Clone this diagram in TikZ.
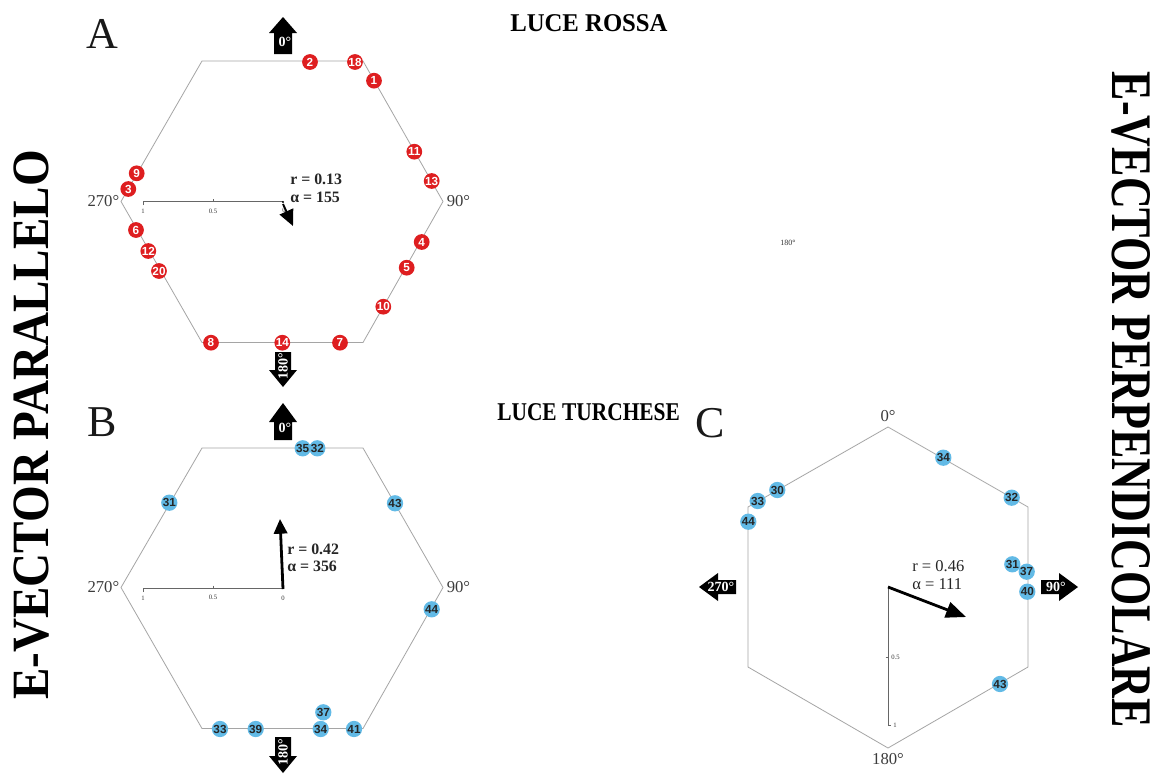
\documentclass[tikz,border=0pt]{standalone}
\usepackage{fontspec}
\setmainfont{Liberation Serif}
\newfontfamily\arialf{Liberation Sans}
\usetikzlibrary{arrows.meta}
\definecolor{mred}{RGB}{222,30,32}
\definecolor{mblue}{RGB}{98,186,230}
\definecolor{hexgray}{RGB}{165,165,165}
\definecolor{txtgray}{RGB}{60,60,60}
\begin{document}
\begin{tikzpicture}[x=0.75pt,y=-0.75pt,
  hex/.style={draw=hexgray, line width=0.6pt},
  bar/.style={draw=black!60, line width=0.45pt},
  rm/.style={circle, fill=mred, text=white, font=\arialf\bfseries\fontsize{8.8}{9}\selectfont, inner sep=0pt, minimum size=11.8pt},
  bm/.style={circle, fill=mblue, text=black!85, font=\arialf\bfseries\fontsize{8.8}{9}\selectfont, inner sep=0pt, minimum size=12.2pt},
  deg/.style={font=\fontsize{12.5}{13}\selectfont, text=txtgray, inner sep=0pt},
  stat/.style={font=\bfseries\fontsize{11.9}{13}\selectfont, anchor=west, inner sep=0pt, text=black!85},
  statc/.style={font=\fontsize{12.4}{13}\selectfont, anchor=west, inner sep=0pt, text=black!85},
  tiny/.style={font=\fontsize{5}{6}\selectfont, inner sep=0pt, text=black!80},
  panel/.style={font=\fontsize{33}{36}\selectfont, inner sep=0pt, text=black!90},
  arrtxt/.style={text=white, font=\bfseries\fontsize{10.5}{11}\selectfont, inner sep=0pt},
  blk/.style={fill=black}
]
\useasboundingbox[fill=white] (0,0) rectangle (1166,775);

% ---------- titles ----------
\node[inner sep=0pt] (tL) at (32,425) [rotate=90] {\resizebox{412pt}{26pt}{\bfseries E-VECTOR PARALLELO}};
\node[inner sep=0pt] (tR) at (1131,400) [rotate=-90] {\resizebox{492pt}{28.5pt}{\bfseries E-VECTOR PERPENDICOLARE}};
\node[inner sep=0pt, anchor=west] (lr) at (510,23) {\resizebox{118pt}{12.7pt}{\bfseries LUCE ROSSA}};
\node[inner sep=0pt, anchor=west] (lt) at (497,412.5) {\resizebox{137pt}{12.7pt}{\bfseries LUCE TURCHESE}};
\node[tiny, font=\fontsize{6}{7}\selectfont] (orph) at (788,243) {180°};

% ================= PANEL A =================
\node[panel] (pA) at (102,34) {A};
\draw[hex] (202,61) -- (363,61) -- (443,201.5) -- (363,342.5) -- (202,342.5) -- (121,201.5) -- cycle;
\node[deg, anchor=east] (a270) at (119.5,201) {270°};
\node[deg, anchor=west] (a90) at (446.5,201) {90°};
% block arrows
\fill[blk] (283,17) -- (297,33) -- (292,33) -- (292,54) -- (274,54) -- (274,33) -- (269,33) -- cycle;
\node[arrtxt] (a0t) at (285,42) {0°};
\fill[blk] (275,352) -- (291,352) -- (291,370) -- (297,370) -- (283,387) -- (269,370) -- (275,370) -- cycle;
\node[arrtxt, rotate=90] (a180t) at (283,366) {180°};
% scale bar
\draw[bar] (143,205) -- (143,201.5) -- (283,201.5);
\draw[bar] (213,199) -- (213,201.5);
\node[tiny] (aS1) at (143,211) {1};
\node[tiny] (aS5) at (213,211) {0.5};
\node[tiny] (aS0) at (284,210) {0};
\fill (283,202) circle (1.2);
% mean vector
\coordinate (aO) at (283,204);
\coordinate (aT) at (293,226);
\draw[line width=1.4pt, -{Triangle[length=12pt,width=11pt]}] (aO) -- (aT);
\node[stat] (aR) at (290,179) {r = 0.13};
\node[stat] (aA) at (290,197) {α = 155};
% markers
\node[rm] (m2) at (310,62) {2};
\node[rm] (m18) at (355,62) {18};
\node[rm] (m1) at (374,80.7) {1};
\node[rm] (m11) at (414.3,151.7) {11};
\node[rm] (m13) at (431.7,181) {13};
\node[rm] (m9) at (136.7,173.3) {9};
\node[rm] (m3) at (128.3,189) {3};
\node[rm] (m6) at (136,230) {6};
\node[rm] (m12) at (148.3,251) {12};
\node[rm] (m20) at (159,271) {20};
\node[rm] (m4) at (421.7,242) {4};
\node[rm] (m5) at (406.7,267.7) {5};
\node[rm] (m10) at (383.3,306.7) {10};
\node[rm] (m8) at (211,342.7) {8};
\node[rm] (m14) at (282.3,342.7) {14};
\node[rm] (m7) at (340,342.7) {7};

% ================= PANEL B =================
\node[panel] (pB) at (102,422) {B};
\draw[hex] (202,448) -- (363,448) -- (443,587.5) -- (363,728.5) -- (202,728.5) -- (121,587.5) -- cycle;
\node[deg, anchor=east] (b270) at (119.5,587) {270°};
\node[deg, anchor=west] (b90) at (446.5,587) {90°};
\fill[blk] (283,403) -- (297,422) -- (292,422) -- (292,440) -- (274,440) -- (274,422) -- (269,422) -- cycle;
\node[arrtxt] (b0t) at (285,428) {0°};
\fill[blk] (275,737) -- (291,737) -- (291,756) -- (297,756) -- (283,773) -- (269,756) -- (275,756) -- cycle;
\node[arrtxt, rotate=90] (b180t) at (283,752) {180°};
\draw[bar] (143,592) -- (143,588) -- (283,588);
\draw[bar] (213,585.5) -- (213,588);
\node[tiny] (bS1) at (143,598) {1};
\node[tiny] (bS5) at (213,597) {0.5};
\node[tiny] (bS0) at (283,598) {0};
\coordinate (bO) at (283,589);
\coordinate (bT) at (280,519);
\draw[line width=2.1pt, -{Triangle[length=11pt,width=10pt]}] (bO) -- (bT);
\node[stat] (bR) at (287,549) {r = 0.42};
\node[stat] (bA) at (287,566) {α = 356};
\node[bm] (n35) at (302.7,448.3) {35};
\node[bm] (n32) at (317.3,448.3) {32};
\node[bm] (n31) at (169.3,502.7) {31};
\node[bm] (n43) at (395,503.3) {43};
\node[bm] (n44) at (431.7,609.3) {44};
\node[bm] (n33) at (220,729) {33};
\node[bm] (n39) at (255.7,729) {39};
\node[bm] (n34) at (320.7,729) {34};
\node[bm] (n41) at (354,729) {41};
\node[bm] (n37) at (323.3,712.3) {37};

% ================= PANEL C =================
\node[panel] (pC) at (710,423) {C};
\draw[hex] (888,427) -- (1028,507) -- (1028,667) -- (888,748) -- (748,667) -- (748,507) -- cycle;
\node[deg] (c0) at (888,416) {0°};
\node[deg] (c180) at (888,759) {180°};
\fill[blk] (699,587) -- (718,573) -- (718,580) -- (736,580) -- (736,594) -- (718,594) -- (718,601) -- cycle;
\node[arrtxt] (c270t) at (721,587) {270°};
\fill[blk] (1078,587) -- (1059,573) -- (1059,580) -- (1041,580) -- (1041,594) -- (1059,594) -- (1059,601) -- cycle;
\node[arrtxt] (c90t) at (1056,587) {90°};
\draw[bar] (888,587) -- (888,725) -- (891,725);
\draw[bar] (885.5,657) -- (888,657);
\node[tiny, anchor=west] (cS5) at (891,657) {0.5};
\node[tiny, anchor=west] (cS1) at (893,725) {1};
\coordinate (cO) at (888,587);
\coordinate (cT) at (966,617);
\draw[line width=2.1pt, -{Triangle[length=15pt,width=12pt]}] (cO) -- (cT);
\node[statc] (cR) at (912,566) {r = 0.46};
\node[statc] (cA) at (912,584) {α = 111};
\node[bm] (k34) at (943.3,457.7) {34};
\node[bm] (k30) at (777.3,490) {30};
\node[bm] (k33) at (757.7,501) {33};
\node[bm] (k44) at (748.3,521.7) {44};
\node[bm] (k32) at (1011.7,497.7) {32};
\node[bm] (k31) at (1012.3,564.3) {31};
\node[bm] (k37) at (1026.7,571.7) {37};
\node[bm] (k40) at (1027.3,591.7) {40};
\node[bm] (k43) at (1000,684) {43};
\end{tikzpicture}
\end{document}
